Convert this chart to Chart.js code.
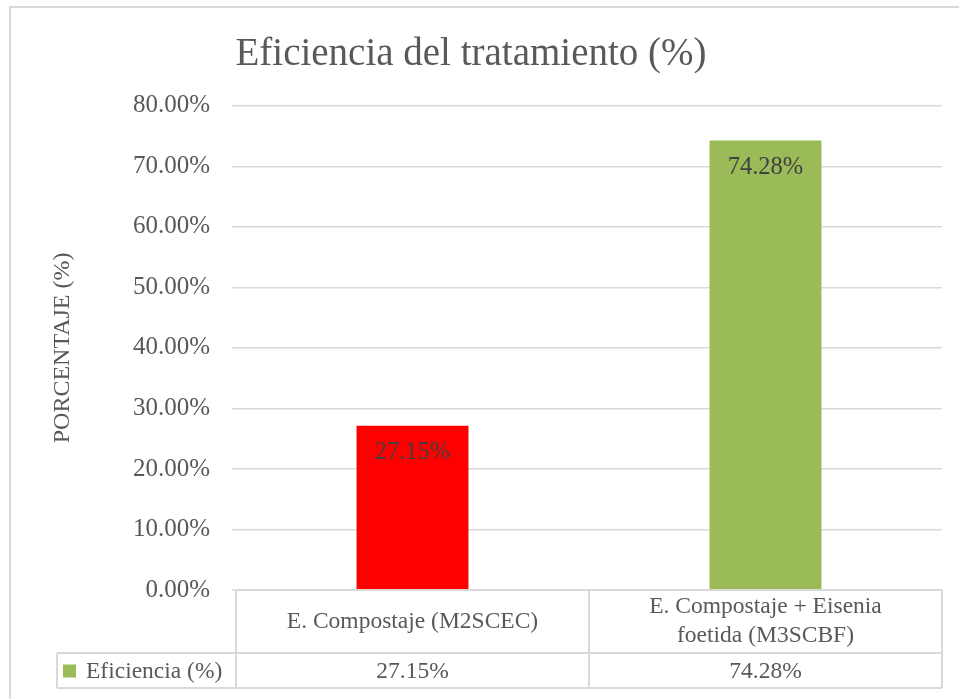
<!DOCTYPE html>
<html>
<head>
<meta charset="utf-8">
<script src="https://cdn.jsdelivr.net/npm/chart.js@4.4.1/dist/chart.umd.min.js"></script>
<style>
  html, body { margin: 0; padding: 0; background: #ffffff; }
  #wrap { width: 959px; height: 699px; position: relative; }
</style>
</head>
<body>
<div id="wrap"><canvas id="chart" width="959" height="699"></canvas></div>
<script>
// Categories (each entry is a list of lines for the data-table header)
const categories = [
  ['E. Compostaje (M2SCEC)'],
  ['E. Compostaje + Eisenia', 'foetida (M3SCBF)']
];
const seriesName = 'Eficiencia (%)';
const efficiency = [27.15, 74.28];
const barColors = ['#ff0000', '#9bbb59'];
const legendColor = '#9bbb59';
const yTicks = [0, 10, 20, 30, 40, 50, 60, 70, 80];

const FONT = "'Liberation Serif', 'Times New Roman', serif";
const TEXT = '#595959';
const LINE = '#d9d9d9';

const fmt = v => v.toFixed(2) + '%';

// Outer chart frame, value labels inside the bars and the data table under the plot
const decorations = {
  id: 'decorations',
  beforeDraw(chart) {
    const ctx = chart.ctx;
    ctx.save();
    ctx.strokeStyle = LINE;
    ctx.lineWidth = 2;
    ctx.strokeRect(10, 7, 1000, 1000);
    ctx.restore();
  },
  afterDatasetsDraw(chart) {
    const ctx = chart.ctx;
    const meta = chart.getDatasetMeta(0);
    ctx.save();
    ctx.font = '24.5px ' + FONT;
    ctx.fillStyle = '#404040';
    ctx.textAlign = 'center';
    ctx.textBaseline = 'middle';
    meta.data.forEach((bar, i) => {
      ctx.fillText(fmt(efficiency[i]), bar.x, bar.y + 27);
    });
    ctx.restore();
  },
  afterDraw(chart) {
    const ctx = chart.ctx;
    const xs = chart.scales.x;
    const area = chart.chartArea;
    const n = categories.length;
    const colW = (area.right - area.left) / n;
    const top = area.bottom;
    const mid = top + 63;
    const bot = mid + 35;
    const legendLeft = 57;

    ctx.save();
    ctx.strokeStyle = LINE;
    ctx.lineWidth = 2;
    ctx.beginPath();
    // horizontal rules
    ctx.moveTo(area.left, top); ctx.lineTo(area.right, top);
    ctx.moveTo(legendLeft, mid); ctx.lineTo(area.right, mid);
    ctx.moveTo(legendLeft, bot); ctx.lineTo(area.right, bot);
    // column separators
    for (let i = 0; i <= n; i++) {
      const x = area.left + colW * i;
      ctx.moveTo(x, top); ctx.lineTo(x, bot);
    }
    ctx.moveTo(legendLeft, mid); ctx.lineTo(legendLeft, bot);
    ctx.stroke();

    ctx.fillStyle = TEXT;
    ctx.font = '23.5px ' + FONT;
    ctx.textAlign = 'center';
    ctx.textBaseline = 'middle';
    const lh = 29;
    categories.forEach((lines, i) => {
      const cx = xs.getPixelForValue(i);
      const cy = (top + mid) / 2;
      const y0 = cy - (lines.length - 1) * lh / 2;
      lines.forEach((t, k) => ctx.fillText(t, cx, y0 + k * lh));
      ctx.fillText(fmt(efficiency[i]), cx, (mid + bot) / 2 + 1);
    });

    // legend key
    ctx.fillStyle = legendColor;
    ctx.fillRect(63, (mid + bot) / 2 - 6, 13, 13);
    ctx.fillStyle = TEXT;
    ctx.textAlign = 'left';
    ctx.fillText(seriesName, 86, (mid + bot) / 2 + 1);
    ctx.restore();
  }
};

new Chart(document.getElementById('chart'), {
  type: 'bar',
  data: {
    labels: categories,
    datasets: [{
      label: seriesName,
      data: efficiency,
      backgroundColor: barColors,
      borderWidth: 0,
      categoryPercentage: 1,
      barPercentage: 0.317
    }]
  },
  options: {
    responsive: false,
    animation: false,
    layout: { padding: { left: 0, right: 17, top: 0, bottom: 109 } },
    plugins: {
      legend: { display: false },
      tooltip: { enabled: false },
      title: {
        display: true,
        text: 'Eficiencia del tratamiento (%)',
        color: TEXT,
        font: { family: FONT, size: 39, weight: 'normal', lineHeight: 1.2 },
        padding: { top: 31, bottom: 28 }
      }
    },
    scales: {
      x: {
        display: true,
        grid: { display: false, drawTicks: false },
        border: { display: false },
        ticks: { display: false }
      },
      y: {
        min: 0,
        max: 80,
        afterBuildTicks(scale) {
          scale.ticks = yTicks.map(v => ({ value: v }));
        },
        afterFit(scale) { scale.width = 236; },
        grid: { color: LINE, lineWidth: 1.5, tickLength: 4, drawTicks: true },
        border: { display: false },
        ticks: {
          color: TEXT,
          padding: 22,
          font: { family: FONT, size: 25 },
          callback: v => fmt(v)
        },
        title: {
          display: true,
          text: 'PORCENTAJE (%)',
          color: TEXT,
          font: { family: FONT, size: 24 },
          padding: { top: 48, bottom: 0 }
        }
      }
    }
  },
  plugins: [decorations]
});
</script>
</body>
</html>
